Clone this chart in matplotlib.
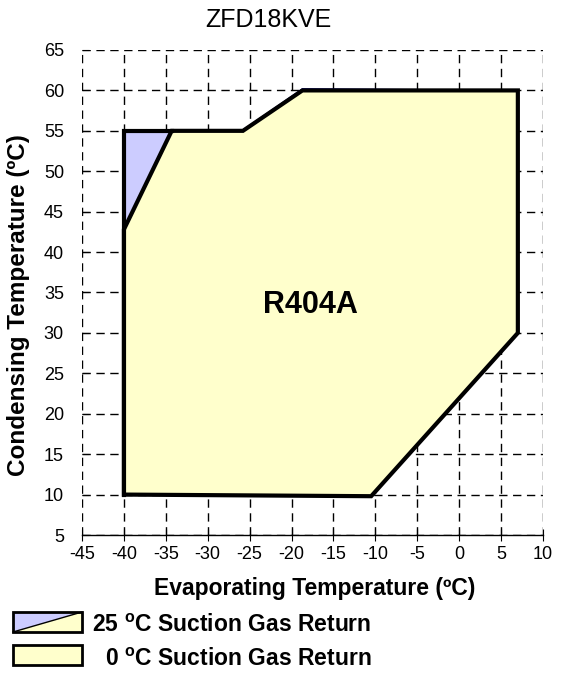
import matplotlib.pyplot as plt
from matplotlib.patches import Polygon, Rectangle

plt.rcParams['font.family'] = ['Liberation Sans', 'DejaVu Sans']
plt.rcParams['axes.unicode_minus'] = False

# envelope at 0 C suction gas return
evap_0 = [-40, -40, -34.3, -25.8, -18.7, 7, 7, -10.5]
cond_0 = [10, 42.8, 55, 55, 60, 60, 30, 9.8]
# envelope at 25 C suction gas return
evap_25 = [-40, -40, -34.3, -25.8, -18.7, 7, 7, -10.5]
cond_25 = [10, 55, 55.1, 55.1, 60.2, 60, 30, 9.8]

xticks = list(range(-45, 11, 5))
yticks = list(range(5, 66, 5))

W, H = 561, 679
fig = plt.figure(figsize=(W / 100, H / 100), dpi=100)
ax = fig.add_axes([82 / W, 1 - 535 / H, 461 / W, 485 / H])

ax.add_patch(Polygon(list(zip(evap_25, cond_25)), closed=True, facecolor='#CCCCFF',
                     edgecolor='#000080', lw=1, zorder=3))
ax.add_patch(Polygon(list(zip(evap_0, cond_0)), closed=True, facecolor='#FFFFCC',
                     edgecolor='black', lw=3, joinstyle='miter', zorder=4))
# outline of the 25 C corner
ax.plot([evap_25[0], evap_25[1], evap_25[2]], [cond_25[0], cond_25[1], 55], color='black',
        lw=3, zorder=5, solid_joinstyle='miter')

ax.set_xlim(-45, 10)
ax.set_ylim(5, 65)
ax.set_xticks(xticks)
ax.set_yticks(yticks)
ax.grid(True, color='black', linestyle=(0, (6, 4)), lw=1)
ax.set_axisbelow(True)
for s in ['top', 'right', 'left']:
    ax.spines[s].set_visible(False)
ax.spines['bottom'].set_linewidth(1)
ax.tick_params(axis='x', direction='inout', length=8, labelsize=13, pad=4)
ax.tick_params(axis='y', direction='in', length=5, labelsize=13, pad=13)

ax.text(-17.8, 33.4, 'R404A', fontsize=22, fontweight='bold', ha='center', va='center', zorder=6)
fig.text(268 / W, 1 - 20 / H, 'ZFD18KVE', fontsize=18, ha='center', va='center')
fig.text(315 / W, 1 - 589 / H, 'Evaporating Temperature (ºC)', fontsize=16.5, fontweight='bold',
         ha='center', va='center')
fig.text(19 / W, 1 - 305 / H, 'Condensing Temperature (ºC)', fontsize=17.5, fontweight='bold',
         ha='center', va='center', rotation=90)

# legend drawn by hand
fig.patches.append(Polygon([(13 / W, 1 - 632 / H), (13 / W, 1 - 612 / H), (82 / W, 1 - 612 / H)],
                           closed=True, transform=fig.transFigure, facecolor='#CCCCFF', edgecolor='none'))
fig.patches.append(Polygon([(13 / W, 1 - 632 / H), (82 / W, 1 - 632 / H), (82 / W, 1 - 612 / H)],
                           closed=True, transform=fig.transFigure, facecolor='#FFFFCC', edgecolor='none'))
fig.patches.append(Rectangle((13 / W, 1 - 632 / H), 69 / W, 20 / H, transform=fig.transFigure,
                             facecolor='none', edgecolor='black', lw=2))
fig.lines.append(plt.Line2D([13 / W, 82 / W], [1 - 632 / H, 1 - 612 / H],
                            transform=fig.transFigure, color='black', lw=1))
fig.patches.append(Rectangle((13 / W, 1 - 665 / H), 69 / W, 20 / H, transform=fig.transFigure,
                             facecolor='#FFFFCC', edgecolor='black', lw=2))
fig.text(92 / W, 1 - 626 / H, '25 $^{\\mathregular{o}}$C Suction Gas Return', fontsize=16.5,
         fontweight='bold', va='center')
fig.text(105 / W, 1 - 660 / H, '0 $^{\\mathregular{o}}$C Suction Gas Return', fontsize=16.5,
         fontweight='bold', va='center')

fig.savefig('out.png', dpi=100)
